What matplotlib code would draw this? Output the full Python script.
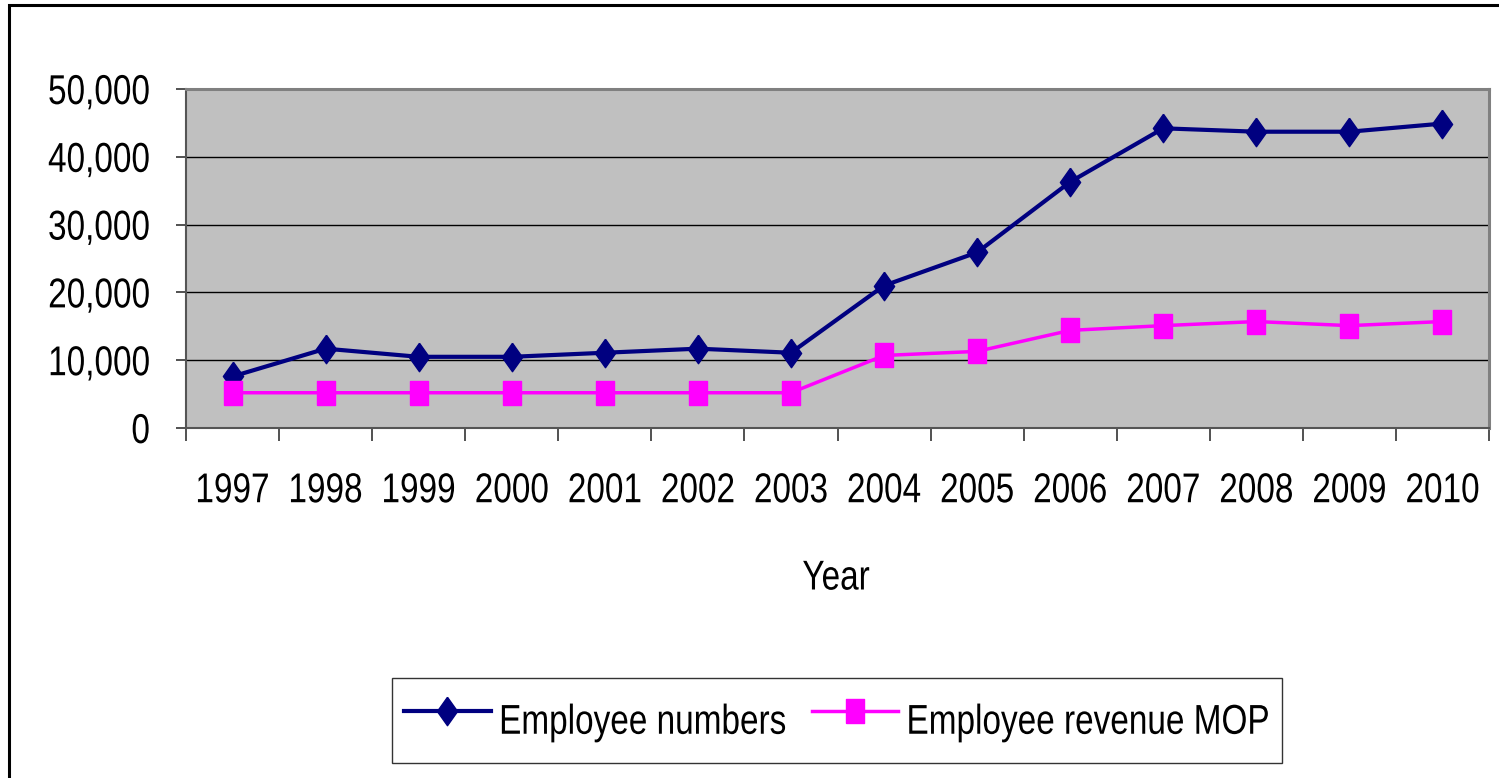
import matplotlib
matplotlib.use("Agg")
import matplotlib.pyplot as plt
from matplotlib.patches import Rectangle
from matplotlib.patheffects import AbstractPathEffect
from matplotlib.transforms import Affine2D
from matplotlib.ticker import FuncFormatter, FixedLocator

years = ["1997", "1998", "1999", "2000", "2001", "2002", "2003",
         "2004", "2005", "2006", "2007", "2008", "2009", "2010"]
employees = [7600, 11700, 10500, 10500, 11100, 11700, 11100,
             21000, 25900, 36300, 44200, 43700, 43700, 44900]
revenue = [5200, 5200, 5200, 5200, 5200, 5200, 5200,
           10700, 11300, 14400, 15100, 15700, 15100, 15700]

plt.rcParams['font.family'] = ['Liberation Sans', 'DejaVu Sans']
fs = 24


#Stretch glyphs vertically so the text looks like the narrow Arial of the original
class Tall(AbstractPathEffect):
    def __init__(self, sy=1.25):
        super().__init__()
        self.sy = sy

    def draw_path(self, renderer, gc, tpath, affine, rgbFace=None):
        cy = 36  # middle of cap height in text path units
        t = Affine2D().translate(0, -cy).scale(1, self.sy).translate(0, cy) + affine
        renderer.draw_path(gc, tpath, t, rgbFace)


diamond = [(0, 1), (0.71, 0), (0, -1), (-0.71, 0), (0, 1)]
rect = [(-0.75, -1), (0.75, -1), (0.75, 1), (-0.75, 1), (-0.75, -1)]

fig = plt.figure(figsize=(14.99, 7.78), dpi=100)
ax = fig.add_axes([186/1499, 1-428/778, (1489-186)/1499, (428-89)/778])
ax.set_facecolor('#C0C0C0')

x = range(len(years))
ax.plot(x, employees, color='#000080', lw=3.0, marker=diamond, ms=20.5,
        label='Employee numbers', zorder=3)
ax.plot(x, revenue, color='#FF00FF', lw=2.5, marker=rect, ms=17.5,
        label='Employee revenue MOP', zorder=3)

ax.set_xlim(-0.5, len(years)-0.5)
ax.set_ylim(0, 50000)
ax.set_yticks(range(0, 50001, 10000))
ax.yaxis.set_major_formatter(FuncFormatter(lambda v, p: f"{int(v):,}"))
ax.grid(axis='y', color='black', lw=1)
ax.set_axisbelow(True)

ax.set_xticks(list(x))
ax.set_xticklabels(years)
ax.xaxis.set_minor_locator(FixedLocator([i - 0.5 for i in range(len(years)+1)]))
ax.tick_params(axis='x', which='major', length=0, pad=34, labelsize=fs)
ax.tick_params(axis='x', which='minor', length=9, width=1.2, color='#333333')
ax.tick_params(axis='y', length=7, width=1.2, color='#333333', pad=19, labelsize=fs)

for s in ['top', 'right']:
    ax.spines[s].set_color('#808080')
    ax.spines[s].set_linewidth(2.2)
for s in ['left', 'bottom']:
    ax.spines[s].set_color('#555555')
    ax.spines[s].set_linewidth(1.5)

for lbl in ax.get_xticklabels() + ax.get_yticklabels():
    lbl.set_path_effects([Tall()])

yr = fig.text(836/1499, 1-578/778, 'Year', ha='center', va='center', fontsize=fs)
yr.set_path_effects([Tall()])

leg = fig.legend(loc='center', bbox_to_anchor=(837/1499, 1-720.5/778), ncol=2,
                 fontsize=fs, frameon=True, fancybox=False, handlelength=2.6,
                 handleheight=2.4, columnspacing=0.75, handletextpad=0.25,
                 borderpad=0.36)
leg.get_frame().set_edgecolor('black')
leg.get_frame().set_linewidth(1)
for t in leg.get_texts():
    t.set_path_effects([Tall()])

# outer chart border, runs off the right and bottom
fig.patches.append(Rectangle((9/1499, -0.1), 1.1, 1-5/778+0.1,
                             transform=fig.transFigure, fill=False,
                             edgecolor='black', lw=2.2))

fig.savefig('out.png', dpi=100)
